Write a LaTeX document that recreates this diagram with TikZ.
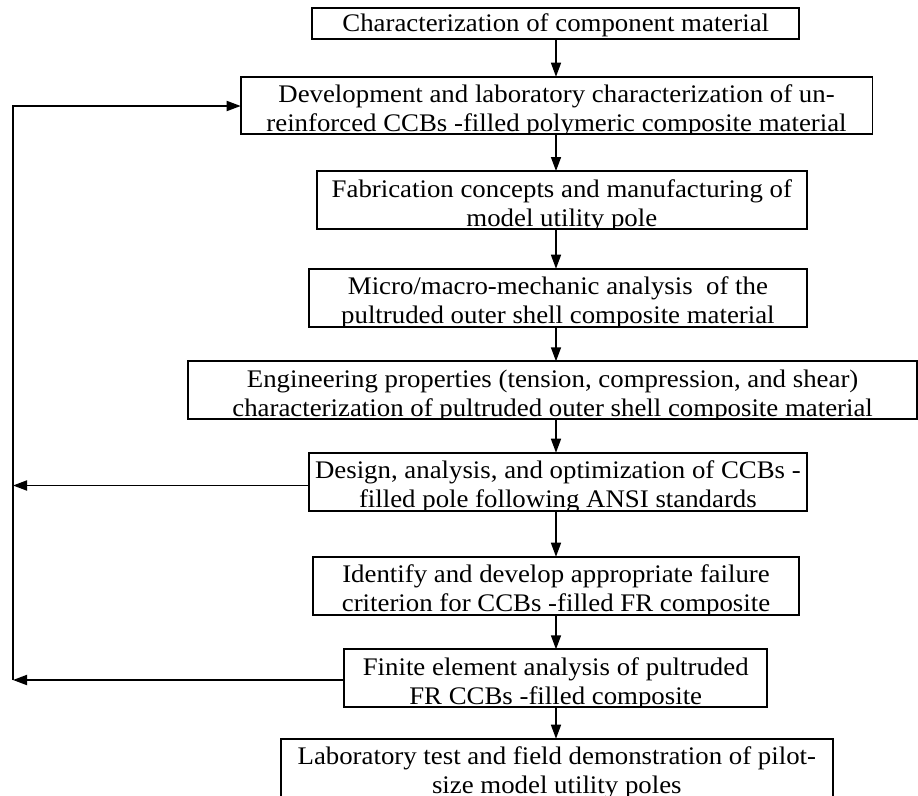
\documentclass[tikz,border=0pt]{standalone}
\usepackage{fontspec}
\setmainfont{Liberation Serif}[FakeStretch=1.06]
\usetikzlibrary{arrows.meta}
\newcommand\flowbox[5]{\node[box, minimum width={#4-#2}, minimum height={#5-#3}] (#1) at ({(#2+#4)/2},{(#3+#5)/2}) {};}
\newcommand\flowtext[5]{%
  \begin{scope}
    \clip (#1.south west) rectangle (#1.north east);
    \node[txt] (#1a) at (#2,{#3+26}) {#4};
    \node[txt] (#1b) at (#2,{#3+55}) {#5};
  \end{scope}}
\begin{document}
\begin{tikzpicture}[x=1pt,y=-1pt,
  box/.style={draw, line width=1.8pt, rectangle, inner sep=0pt, outer sep=0pt},
  txt/.style={inner sep=0pt, outer sep=0pt, anchor=base, font=\fontsize{25.3}{29}\selectfont},
  tip/.style={-{Triangle[length=14pt,width=10pt]}},
  conn/.style={line width=1.5pt, tip},
  feed/.style={line width=1.8pt}]
\useasboundingbox (0,0) rectangle (918,795);

% boxes
\flowbox{b1}{312.1}{8.3}{799.2}{39.3}
\flowbox{b2}{240.7}{76.7}{872.4}{134.3}
\flowbox{b3}{316.7}{171}{806.8}{229}
\flowbox{b4}{309}{268.7}{806.8}{326.7}
\flowbox{b5}{188.3}{361.3}{916.9}{419}
\flowbox{b6}{309}{452.7}{806.8}{510.9}
\flowbox{b7}{312.7}{556.7}{799.2}{615}
\flowbox{b8}{344.3}{649.3}{767}{706.7}
\flowbox{b9}{281}{738.7}{832.6}{800}

% texts
\node[txt] (b1a) at (555.7,31.7) {Characterization of component material};
\flowtext{b2}{556.5}{76.7}{Development and laboratory characterization of un-}{reinforced CCBs -filled polymeric composite material}
\flowtext{b3}{561.8}{171}{Fabrication concepts and manufacturing of}{model utility pole}
\flowtext{b4}{557.9}{268.7}{Micro/macro-mechanic analysis\ \ of the}{pultruded outer shell composite material}
\flowtext{b5}{552.6}{361.3}{Engineering properties (tension, compression, and shear)}{characterization of pultruded outer shell composite material}
\flowtext{b6}{557.9}{452.7}{Design, analysis, and optimization of CCBs -}{filled pole following ANSI standards}
\flowtext{b7}{556}{556.7}{Identify and develop appropriate failure}{criterion for CCBs -filled FR composite}
\flowtext{b8}{555.7}{649.3}{Finite element analysis of pultruded}{FR CCBs -filled composite}
\flowtext{b9}{556.8}{738.7}{Laboratory test and field demonstration of pilot-}{size model utility poles}

% main downward chain
\coordinate (ax) at (556,0);
\foreach \a/\b in {b1/b2,b2/b3,b3/b4,b4/b5,b5/b6,b6/b7,b7/b8,b8/b9}
  \draw[conn] (\a.south -| ax) -- (\b.north -| ax);

% feedback loop
\coordinate (fbtop) at (13,106);
\coordinate (fb6) at (13,485.5);
\coordinate (fb8) at (13,680);
\draw[feed, tip] (fb8) -- (fbtop) -- (b2.west |- fbtop);
\draw[feed, tip] (b6.west |- fb6) -- (fb6);
\draw[feed, tip] (b8.west |- fb8) -- (fb8);
\end{tikzpicture}
\end{document}
